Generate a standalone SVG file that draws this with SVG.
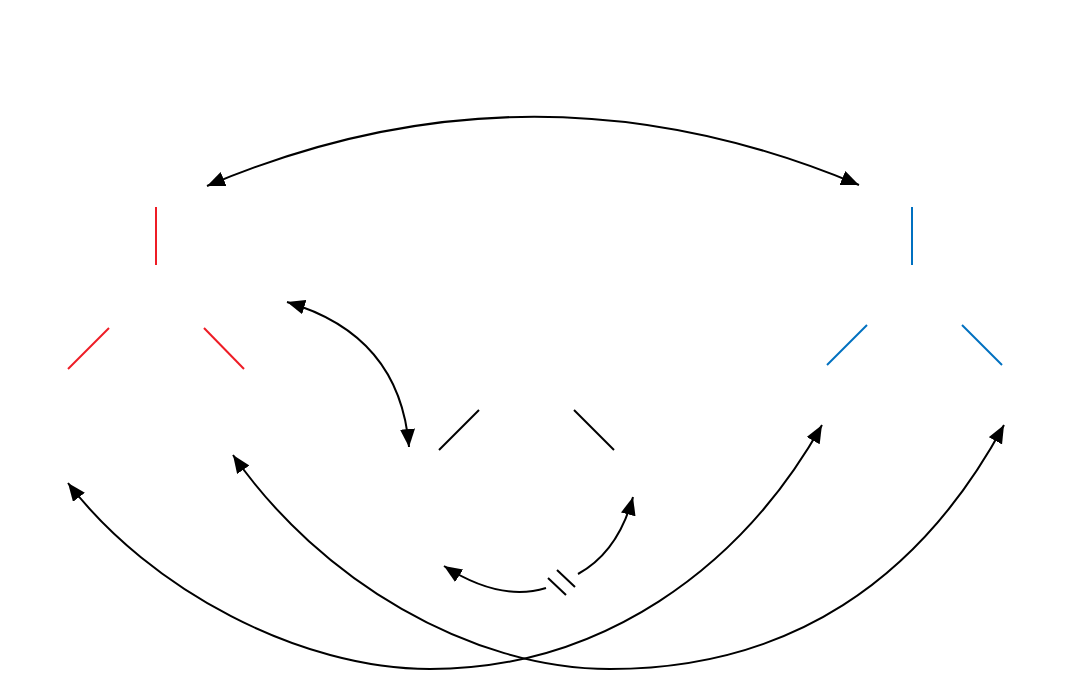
<svg xmlns="http://www.w3.org/2000/svg" width="1080" height="680" viewBox="0 0 1080 680">
<style>
.red{stroke:#ee1c25;stroke-width:2;fill:none}
.blue{stroke:#0070c0;stroke-width:2;fill:none}
.blk{stroke:#000;stroke-width:2;fill:none}
.arr{stroke:#000;stroke-width:2;fill:none;marker-start:url(#ah);marker-end:url(#ah)}
.arr1{stroke:#000;stroke-width:2;fill:none;marker-end:url(#ah)}
</style>
<defs>
<marker id="ah" markerUnits="userSpaceOnUse" markerWidth="20" markerHeight="16" refX="18" refY="7.5" orient="auto-start-reverse">
<path d="M0,0 L18,7.5 L0,15 z" fill="#000"/>
</marker>
</defs>
<rect width="1080" height="680" fill="#fff"/>
<g id="node-red">
<line class="red" x1="156" y1="207" x2="156" y2="265"/>
<line class="red" x1="109" y1="328" x2="68" y2="369"/>
<line class="red" x1="204" y1="328" x2="244" y2="369"/>
</g>
<g id="node-blue">
<line class="blue" x1="912" y1="207" x2="912" y2="265"/>
<line class="blue" x1="867" y1="325" x2="827" y2="365"/>
<line class="blue" x1="962" y1="325" x2="1002" y2="365"/>
</g>
<g id="node-black">
<line class="blk" x1="479" y1="410" x2="439" y2="450"/>
<line class="blk" x1="574" y1="410" x2="614" y2="450"/>
</g>
<g id="connectors">
<path class="arr" d="M207,186 Q533,48 859,185"/>
<path class="arr" d="M287,302 Q400,335 409,447"/>
<path class="arr1" d="M546,588 Q500,602 444,566"/>
<path class="arr1" d="M578,574 Q618,552 633,497"/>
<line class="blk" x1="548" y1="578" x2="566" y2="595"/>
<line class="blk" x1="557" y1="570" x2="575" y2="587"/>
<path class="arr" d="M68,483 C150,590 300,669 430,669 C600,669 740,570 822,425"/>
<path class="arr" d="M233,455 C320,580 470,669 610,669 C790,669 920,580 1004,425"/>
</g>
</svg>
